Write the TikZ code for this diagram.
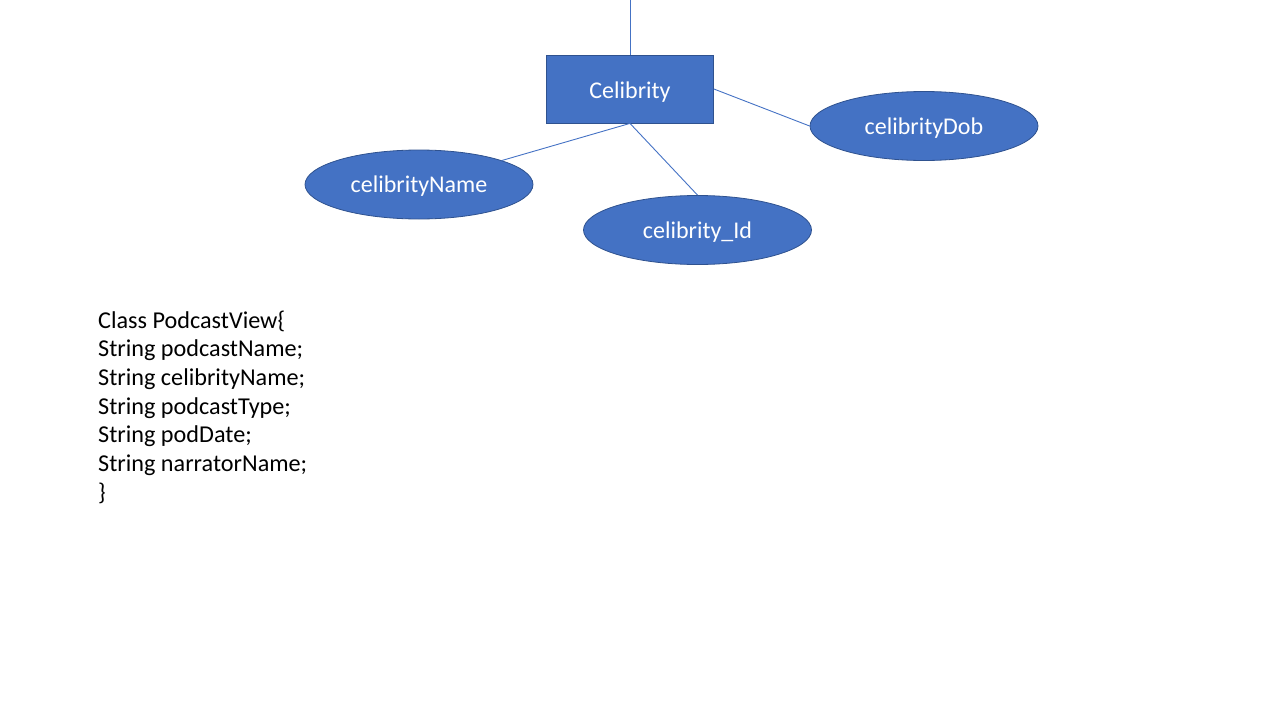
\documentclass[tikz,border=0pt]{standalone}
\usepackage{fontspec}
\setmainfont{Carlito}
\usetikzlibrary{shapes.geometric}
\definecolor{accent}{HTML}{4472C4}
\definecolor{edgeblue}{HTML}{2F528F}
\tikzset{
  entitybox/.style={draw=edgeblue, line width=0.8pt, fill=accent, minimum width=167pt, minimum height=68pt, inner sep=0pt, text=white, text height=21.6pt, text depth=3pt, font=\fontsize{24}{28.8}\selectfont},
  attr/.style={ellipse, draw=edgeblue, line width=0.8pt, fill=accent, minimum width=228pt, minimum height=69pt, inner sep=0pt, text=white, text height=19pt, text depth=3pt, font=\fontsize{24}{28.8}\selectfont},
  conn/.style={draw=accent, line width=0.9pt},
  codeline/.style={anchor=base west, inner sep=0pt, font=\fontsize{24.2}{29}\selectfont, text=black}
}
\begin{document}
\begin{tikzpicture}[x=1pt, y=-1pt]
\useasboundingbox (0,0) rectangle (1280,720);
\coordinate (topend) at (630,0);
\node[entitybox] (celib) at (630,89) {Celibrity};
\node[attr] (cname) at (419,184.5) {celibrityName};
\node[attr] (cid) at (697.5,230) {celibrity\_Id};
\node[attr] (cdob) at (924,126) {celibrityDob};
\draw[conn] (topend) -- (celib.north);
\draw[conn] (celib.east) -- (cdob.west);
\draw[conn] (celib.south) -- (cname);
\draw[conn] (celib.south) -- (cid.north);
\node[codeline] (l1) at (98,328) {Class PodcastView\{};
\node[codeline] (l2) at (98,356.7) {String podcastName;};
\node[codeline] (l3) at (98,385.4) {String celibrityName;};
\node[codeline] (l4) at (98,414.1) {String podcastType;};
\node[codeline] (l5) at (98,442.8) {String podDate;};
\node[codeline] (l6) at (98,471.5) {String narratorName;};
\node[codeline] (l7) at (98,500.2) {\}};
\end{tikzpicture}
\end{document}
